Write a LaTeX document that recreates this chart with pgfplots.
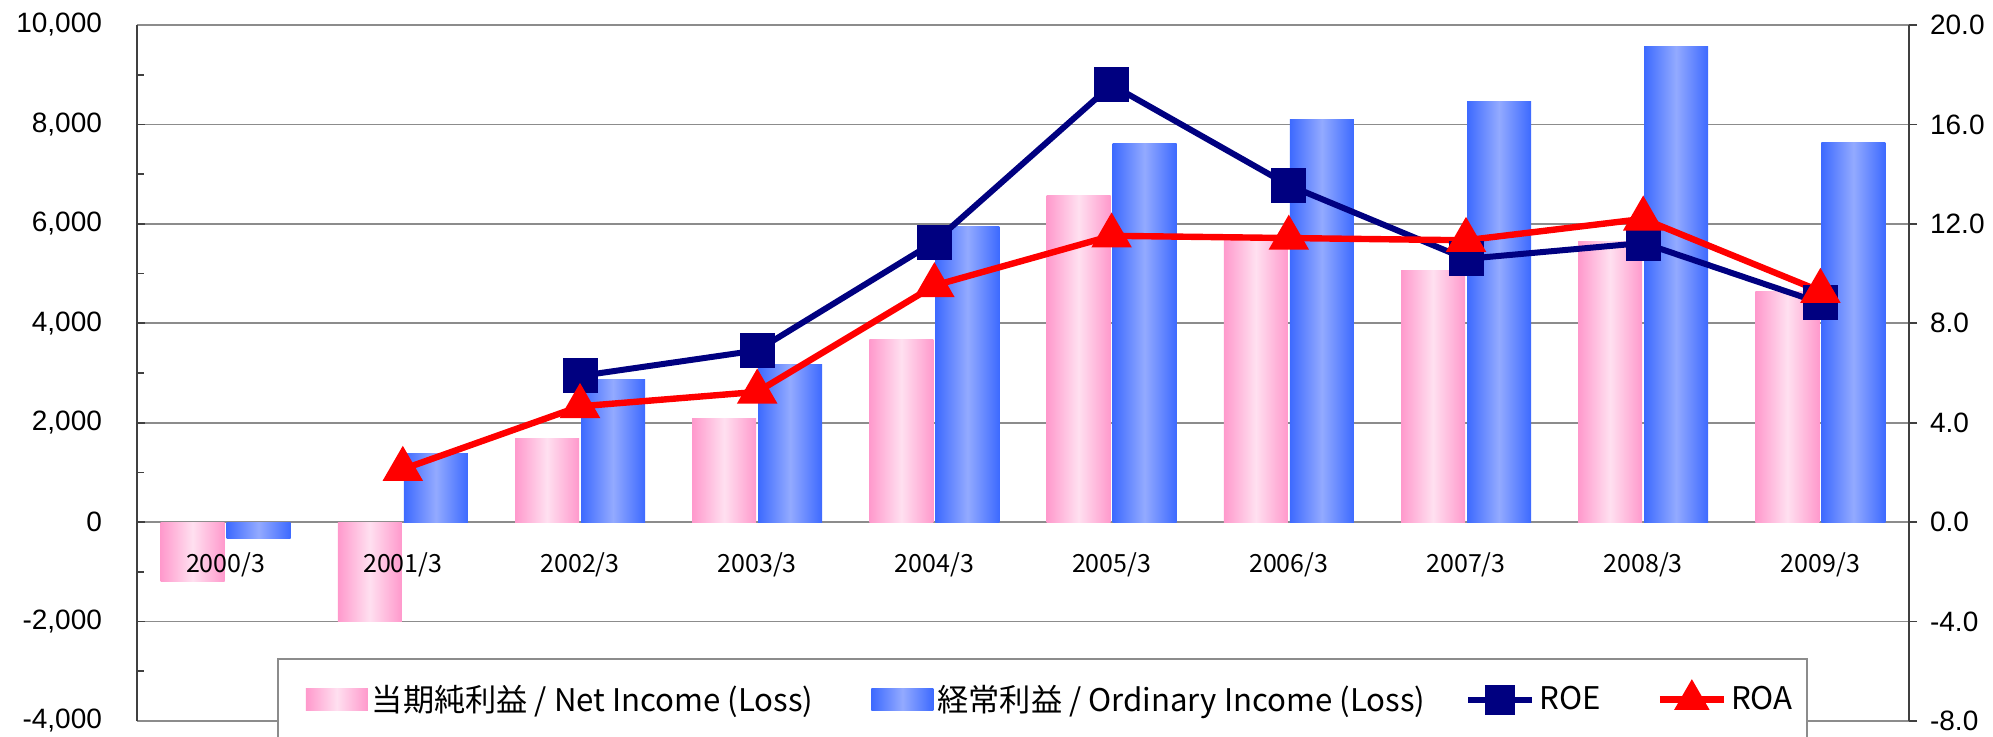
\documentclass[border=0pt]{standalone}
\usepackage{pgfplots}
\pgfplotsset{compat=1.18}
\usepackage{fontspec}
\setmainfont{Liberation Sans}
\newfontfamily\jp{Noto Sans CJK JP}
\definecolor{pinkD}{HTML}{FF99CC}
\definecolor{pinkL}{HTML}{FFE0F0}
\definecolor{blueD}{HTML}{3D6AFF}
\definecolor{blueL}{HTML}{93AAFF}
\definecolor{roe}{HTML}{000080}
\definecolor{gridc}{HTML}{8C8C8C}
\definecolor{axc}{HTML}{404040}
\pgfplotsset{
  pinkleg/.style={legend image code/.code={\path (-9pt,0pt); \path[##1] (0pt,-5.5pt) rectangle (31pt,5.5pt);}},
  barleg/.style={legend image code/.code={\path[##1] (0pt,-5.5pt) rectangle (31pt,5.5pt);}},
  roeleg/.style={legend image code/.code={\draw[##1, mark repeat=2, mark phase=2, mark size=6pt] plot coordinates {(0pt,0pt) (16pt,0pt) (32pt,0pt)};}},
  roaleg/.style={legend image code/.code={\draw[##1, mark repeat=2, mark phase=2, mark size=7pt] plot coordinates {(0pt,0pt) (16pt,0pt) (32pt,0pt)};}},
  pinkbar/.style={ybar, bar width=32pt, bar shift=-16.5pt, draw=none,
    left color=pinkD, right color=pinkD, middle color=pinkL},
  bluebar/.style={ybar, bar width=32pt, bar shift=16.5pt, draw=none,
    left color=blueD, right color=blueD, middle color=blueL},
}
% one bar per plot, so that each bar gets its own shading
\newcommand{\pbar}[2]{\addplot[pinkbar] coordinates {(#1,#2)};}
\newcommand{\bbar}[2]{\addplot[bluebar] coordinates {(#1,#2)};}
\begin{document}
\begin{tikzpicture}[x=1pt,y=1pt]
\begin{axis}[
  at={(0,0)}, anchor=south west, scale only axis,
  width=886pt, height=348pt,
  xmin=-0.5, xmax=9.5, ymin=-4000, ymax=10000,
  xtick=\empty,
  ytick={-4000,-2000,...,10000},
  minor ytick={-3000,-1000,...,9000},
  scaled y ticks=false,
  ytick pos=left,
  tick align=inside,
  major tick length=4pt, minor tick length=3.5pt,
  every tick/.style={axc, line width=0.8pt},
  ymajorgrids, grid style={gridc, line width=0.9pt},
  separate axis lines,
  x axis line style={draw=gridc, line width=1.2pt},
  y axis line style={draw=axc, line width=1.2pt},
  /pgf/number format/assume math mode=true,
  /pgf/number format/1000 sep={,},
  yticklabel style={font=\fontsize{14}{16}\selectfont, xshift=-14pt},
]
% Net Income (Loss), millions of yen
\pbar{0}{-1200} \pbar{1}{-2000} \pbar{2}{1690} \pbar{3}{2090} \pbar{4}{3680}
\pbar{5}{6570} \pbar{6}{5690} \pbar{7}{5060} \pbar{8}{5640} \pbar{9}{4630}
% Ordinary Income (Loss), millions of yen
\bbar{0}{-330} \bbar{1}{1390} \bbar{2}{2870} \bbar{3}{3175} \bbar{4}{5950}
\bbar{5}{7620} \bbar{6}{8090} \bbar{7}{8460} \bbar{8}{9560} \bbar{9}{7645}
\end{axis}
\begin{axis}[
  at={(0,0)}, anchor=south west, scale only axis,
  width=886pt, height=348pt,
  xmin=-0.5, xmax=9.5, ymin=-8, ymax=20,
  axis x line*=bottom, axis y line*=right,
  x axis line style={draw=none},
  xtick={0,...,9},
  xticklabels={2000/3,2001/3,2002/3,2003/3,2004/3,2005/3,2006/3,2007/3,2008/3,2009/3},
  major x tick style={draw=none},
  xticklabel style={font=\jp\fontsize{12.5}{14}\selectfont, anchor=center, yshift=82pt},
  ytick={-8,-4,...,20},
  tick align=outside, major tick length=4pt,
  every tick/.style={axc, line width=0.8pt},
  y axis line style={draw=axc, line width=1.2pt},
  /pgf/number format/assume math mode=true,
  /pgf/number format/fixed,
  /pgf/number format/fixed zerofill,
  /pgf/number format/precision=1,
  yticklabel style={font=\fontsize{14}{16}\selectfont, xshift=3pt},
  legend columns=4,
  legend style={at={(0.079,0.0905)}, anchor=north west,
    draw=gridc, line width=0.9pt, inner xsep=5pt, inner ysep=11pt,
    font=\jp\fontsize{15.6}{18}\selectfont,
    /tikz/column 2/.style={column sep=27pt},
    /tikz/column 4/.style={column sep=18pt},
    /tikz/column 6/.style={column sep=26pt}},
]
\addlegendimage{pinkleg, draw=none, left color=pinkD, right color=pinkD, middle color=pinkL}
\addlegendentry{当期純利益 / Net Income (Loss)}
\addlegendimage{barleg, draw=none, left color=blueD, right color=blueD, middle color=blueL}
\addlegendentry{経常利益 / Ordinary Income (Loss)}
\addplot[roe, line width=3pt, mark=square*, mark size=7.25pt, roeleg]
  coordinates {(2,5.88) (3,6.91) (4,11.27) (5,17.59) (6,13.55) (7,10.59) (8,11.23) (9,8.82)};
\addlegendentry{ROE}
\addplot[red, line width=3.2pt, mark=triangle*, mark size=8.5pt, roaleg]
  coordinates {(1,2.13) (2,4.66) (3,5.24) (4,9.52) (5,11.52) (6,11.43) (7,11.34) (8,12.2) (9,9.29)};
\addlegendentry{ROA}
\end{axis}
\pgfresetboundingbox
\useasboundingbox (-68.5,-7.5) rectangle (928,360.5);
\end{tikzpicture}
\end{document}
